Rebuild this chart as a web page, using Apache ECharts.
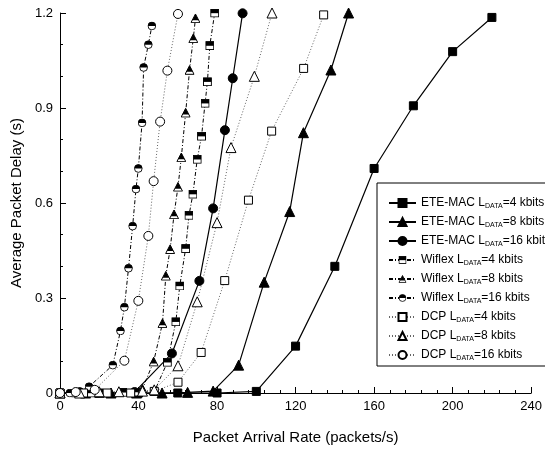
<!DOCTYPE html>
<html><head><meta charset="utf-8">
<script src="https://cdn.jsdelivr.net/npm/echarts@6/dist/echarts.min.js"></script>
<style>html,body{margin:0;padding:0;background:#fff}#c{width:545px;height:450px}</style>
</head><body><div id="c"></div>
<script>
// ---- data ----
const eteX4  = [0,20,40,60,80,100,120,140,160,180,200,220];
const eteY4  = [0,0,0,0,0,0.005,0.148,0.40,0.709,0.907,1.078,1.186];
const eteX8  = [0,13,26,39,52,65,78,91,104,117,124,138,147];
const eteY8  = [0,0,0,0,0,0.002,0.006,0.088,0.35,0.573,0.822,1.02,1.2];
const eteX16 = [0,19,38,57,71,78,84,88,93];
const eteY16 = [0,0,0.003,0.125,0.354,0.583,0.83,0.994,1.199];
const wifX4  = [0,8,16,24,32,40,48,54.7,59,61,64,65.7,67.7,69.9,72.1,73.9,75.1,76.3,78.8];
const wifY4  = [0,0,0,0,0.002,0.003,0.004,0.097,0.225,0.338,0.456,0.561,0.628,0.738,0.811,0.915,0.983,1.097,1.2];
const wifX8  = [0,10,20,30,42,47.7,52.2,53.9,56.1,58.1,60.1,61.8,64,66,67.9,69];
const wifY8  = [0,0,0,0.002,0.013,0.099,0.22,0.37,0.454,0.564,0.651,0.744,0.885,1.02,1.12,1.183];
const wifX16 = [0,5,10,14.8,26.9,30.8,32.8,34.9,37,38.7,39.9,41.8,42.6,45,46.8];
const wifY16 = [0,0,0.005,0.02,0.088,0.196,0.271,0.394,0.527,0.644,0.709,0.853,1.028,1.10,1.159];
const dcpX4  = [0,12,24,36,48,60.1,71.9,83.9,96,107.8,124.1,134.3];
const dcpY4  = [0,0,0,0,0.005,0.034,0.128,0.355,0.609,0.827,1.025,1.194];
const dcpX8  = [0,10,20,30,42,48,60.1,69.9,80,87.1,99,108];
const dcpY8  = [0,0,0.004,0.004,0.006,0.01,0.086,0.288,0.538,0.775,1.0,1.2];
const dcpX16 = [0,8,17.7,32.8,39.9,45,47.7,51,54.7,60.1];
const dcpY16 = [0,0.003,0.01,0.102,0.291,0.496,0.669,0.857,1.018,1.197];
const xTicks = [0,40,80,120,160,200,240];
const yTicks = [0,0.3,0.6,0.9,1.2];
const seriesNames = ['ETE-MAC 4','ETE-MAC 8','ETE-MAC 16','Wiflex 4','Wiflex 8','Wiflex 16','DCP 4','DCP 8','DCP 16'];
const legendTexts = [
  ['ETE-MAC L','=4 kbits'],['ETE-MAC L','=8 kbits'],['ETE-MAC L','=16 kbits'],
  ['Wiflex L','=4 kbits'],['Wiflex L','=8 kbits'],['Wiflex L','=16 kbits'],
  ['DCP L','=4 kbits'],['DCP L','=8 kbits'],['DCP L','=16 kbits']];

function pairs(xs, ys){ return xs.map((x,i)=>[x, ys[i]]); }
function svgSym(body){
  return 'image://data:image/svg+xml;charset=utf-8,' + encodeURIComponent(
    "<svg xmlns='http://www.w3.org/2000/svg' width='20' height='20' viewBox='0 0 10 10'>" + body + "</svg>");
}
const halfSquare = svgSym("<rect x='0.6' y='0.6' width='8.8' height='8.8' fill='white' stroke='black' stroke-width='1.1'/><rect x='0.6' y='0.6' width='8.8' height='4.6' fill='black'/>");
const halfTri = svgSym("<polygon points='5,0.6 9.5,9.3 0.5,9.3' fill='white' stroke='black' stroke-width='1'/><polygon points='5,0.6 8.2,6.8 1.8,6.8' fill='black'/>");
const halfCircle = svgSym("<circle cx='5' cy='5' r='4.3' fill='white' stroke='black' stroke-width='1'/><path d='M0.7,5 A4.3,4.3 0 0 1 9.3,5 Z' fill='black'/>");

const solid = {color:'#000', width:1.2, type:'solid'};
const dashdot = {color:'#000', width:1, type:[4,2,1,2]};
const dotted = {color:'#666', width:1, type:[1,2]};

function mk(name, xs, ys, symbol, size, line, fill){
  return {
    name, type:'line', data: pairs(xs, ys), symbol, symbolSize:size,
    showAllSymbol:true, lineStyle: line, clip:false,
    itemStyle: {color: fill, borderColor:'#000', borderWidth:1},
    emphasis:{disabled:true}, animation:false
  };
}
const series = [
  mk(seriesNames[0], eteX4, eteY4, 'rect', 8, solid, '#000'),
  mk(seriesNames[1], eteX8, eteY8, 'triangle', 10, solid, '#000'),
  mk(seriesNames[2], eteX16, eteY16, 'circle', 9, solid, '#000'),
  mk(seriesNames[3], wifX4, wifY4, halfSquare, 9, dashdot, '#000'),
  mk(seriesNames[4], wifX8, wifY8, halfTri, 10, dashdot, '#000'),
  mk(seriesNames[5], wifX16, wifY16, halfCircle, 9, dashdot, '#000'),
  mk(seriesNames[6], dcpX4, dcpY4, 'rect', 8, dotted, '#fff'),
  mk(seriesNames[7], dcpX8, dcpY8, 'triangle', 10, dotted, '#fff'),
  mk(seriesNames[8], dcpX16, dcpY16, 'circle', 9, dotted, '#fff')
];

const chart = echarts.init(document.getElementById('c'), null, {renderer:'canvas'});
const font = 'Liberation Sans';
chart.setOption({
  animation:false,
  backgroundColor:'#fff',
  grid:{left:60, right:10, top:13, bottom:57},
  xAxis:{
    type:'value', min:xTicks[0], max:xTicks[xTicks.length-1], interval:xTicks[1]-xTicks[0],
    name:'Packet Arrival Rate (packets/s)', nameLocation:'middle', nameGap:37,
    nameTextStyle:{fontFamily:font, fontSize:15, color:'#000'},
    axisLine:{lineStyle:{color:'#000', width:1}},
    axisTick:{inside:true, length:6, lineStyle:{color:'#000'}},
    minorTick:{show:true, splitNumber:5, length:3, lineStyle:{color:'#000'}},
    axisLabel:{fontFamily:font, fontSize:13, color:'#000', margin:7},
    splitLine:{show:false}
  },
  yAxis:{
    type:'value', min:yTicks[0], max:yTicks[yTicks.length-1], interval:yTicks[1]-yTicks[0],
    name:'Average Packet Delay (s)', nameLocation:'middle', nameGap:29,
    nameTextStyle:{fontFamily:font, fontSize:15, color:'#000'},
    axisLine:{show:true, lineStyle:{color:'#000', width:1}},
    axisTick:{show:true, inside:true, length:6, lineStyle:{color:'#000'}},
    minorTick:{show:true, splitNumber:3, length:3, lineStyle:{color:'#000'}},
    axisLabel:{fontFamily:font, fontSize:13, color:'#000', margin:7,
      formatter:v=>String(Math.round(v*10)/10)},
    splitLine:{show:false}
  },
  legend:{
    data:seriesNames, orient:'vertical', left:377, top:183,
    padding:[14,30,4,11], itemGap:6, itemWidth:27, itemHeight:10,
    backgroundColor:'#fff', borderColor:'#000', borderWidth:1, borderRadius:0,
    selectedMode:false,
    formatter: name => { const t = legendTexts[seriesNames.indexOf(name)]; return '{t|'+t[0]+'}{s|DATA}{t|'+t[1]+'}'; },
    textStyle:{fontFamily:font, fontSize:12, color:'#000',
      rich:{
        t:{fontFamily:font, fontSize:12, color:'#000', lineHeight:14},
        s:{fontFamily:font, fontSize:7, color:'#000', verticalAlign:'bottom', lineHeight:8, padding:[0,0,0,0]}
      }}
  },
  series
});
</script></body></html>
